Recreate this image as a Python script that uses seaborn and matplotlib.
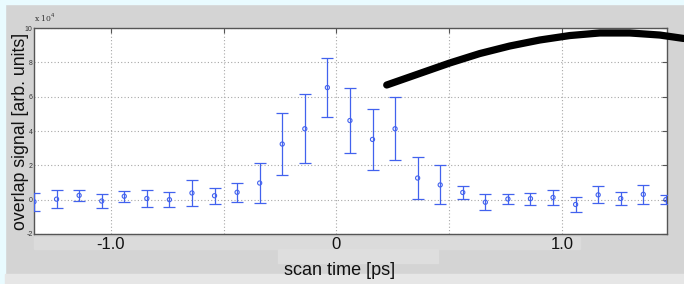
"""Overlap signal vs. scan time, MATLAB-style errorbar screenshot."""
import matplotlib
matplotlib.use("Agg")

import matplotlib.pyplot as plt
import seaborn as sns
from matplotlib.patches import Rectangle

OUTPUT_PATH = "out.png"

# scan time [ps]
scan_time = [-1.34, -1.24, -1.14, -1.04, -0.94, -0.84, -0.74, -0.64, -0.54, -0.44,
             -0.34, -0.24, -0.14, -0.04, 0.06, 0.16, 0.26, 0.36, 0.46, 0.56,
             0.66, 0.76, 0.86, 0.96, 1.06, 1.16, 1.26, 1.36, 1.46]
# overlap signal [arb. units], in units of 1e4
signal = [-0.12, 0.03, 0.25, -0.08, 0.20, 0.07, 0.00, 0.39, 0.23, 0.43,
          0.97, 3.24, 4.13, 6.53, 4.61, 3.51, 4.13, 1.26, 0.86, 0.42,
          -0.15, 0.04, 0.06, 0.13, -0.28, 0.28, 0.07, 0.31, 0.00]
signal_err = [0.52, 0.51, 0.31, 0.41, 0.33, 0.51, 0.44, 0.77, 0.47, 0.54,
              1.17, 1.80, 2.00, 1.72, 1.91, 1.80, 1.83, 1.24, 1.14, 0.36,
              0.47, 0.27, 0.35, 0.46, 0.45, 0.50, 0.38, 0.56, 0.26]

# hand-drawn black stroke over the plot (data coords)
stroke_x = [0.223, 0.369, 0.502, 0.635, 0.768, 0.901, 1.034, 1.167, 1.300, 1.433, 1.539]
stroke_y = [6.68, 7.35, 7.96, 8.51, 8.95, 9.30, 9.56, 9.71, 9.71, 9.59, 9.39]

x_ticks = [-1.0, -0.5, 0.0, 0.5, 1.0]
x_tick_labels = ["-1.0", "", "0", "", "1.0"]
y_ticks = [-2, 0, 2, 4, 6, 8, 10]
y_tick_labels = ["-2", "0", "2", "4", "6", "8", "10"]

BLUE = "#4262ee"
GRID = "#a8a8a8"
SPINE = "#555555"

sns.set_style("white")
plt.rcParams["font.family"] = ["Liberation Sans", "DejaVu Sans"]

W, H = 684, 284
fig = plt.figure(figsize=(W / 100, H / 100), dpi=100, facecolor="#d4d4d4")


def bg_rect(x0, y0, x1, y1, color):
    # pixel box (top-left origin) -> figure fraction
    fig.patches.append(Rectangle((x0 / W, 1 - y1 / H), (x1 - x0) / W, (y1 - y0) / H,
                                 transform=fig.transFigure, color=color, zorder=-10))


bg_rect(0, 0, W, 4, "#e9fbff")
bg_rect(0, 0, 5, H, "#e9fbff")
bg_rect(5, 274, W, H, "#e6e6e6")
bg_rect(34, 237, 580, 249, "#dbdbdb")
bg_rect(278, 249, 438, 263, "#dedede")

ax = fig.add_axes([34 / W, 1 - 234 / H, 633 / W, 206 / H])
ax.set_facecolor("white")

ax.errorbar(scan_time, signal, yerr=signal_err, fmt="none", ecolor=BLUE,
            elinewidth=0.9, capsize=4.3, capthick=0.9, zorder=3)
sns.scatterplot(x=scan_time, y=signal, marker="o", s=9, facecolors="none",
                edgecolor=BLUE, linewidth=0.8, ax=ax, zorder=4)
sns.lineplot(x=stroke_x, y=stroke_y, sort=False, estimator=None, color="black",
             linewidth=5.2, solid_capstyle="round", solid_joinstyle="round",
             ax=ax, zorder=6, clip_on=False)

ax.set_xlim(-1.34, 1.465)
ax.set_ylim(-2, 10)
ax.set_xticks(x_ticks)
ax.set_xticklabels(x_tick_labels)
ax.set_yticks(y_ticks)
ax.set_yticklabels(y_tick_labels)

ax.grid(True, color=GRID, linestyle=(0, (1, 2)), linewidth=0.8)
ax.set_axisbelow(True)
for s in ax.spines.values():
    s.set_color(SPINE)
    s.set_linewidth(1.0)

ax.tick_params(axis="both", direction="in", length=3.5, color=SPINE,
               top=True, right=True)
ax.tick_params(axis="x", labelsize=12, pad=2, labelcolor="#111111")
ax.tick_params(axis="y", labelsize=5, pad=1, labelcolor="#333333")

ax.text(0.0, 1.018, r"x 10$^{4}$", transform=ax.transAxes, fontsize=5.5,
        family="DejaVu Serif", color="#333333", ha="left", va="bottom")

ax.set_xlabel("scan time [ps]", fontsize=13, color="#111111")
ax.set_ylabel("overlap signal [arb. units]", fontsize=12.8, color="#111111")
ax.xaxis.set_label_coords(0.483, -0.136)
ax.yaxis.set_label_coords(-0.008, 0.50)

fig.savefig(OUTPUT_PATH, dpi=100, facecolor=fig.get_facecolor())
plt.close(fig)
print(f"Saved: {OUTPUT_PATH}")
